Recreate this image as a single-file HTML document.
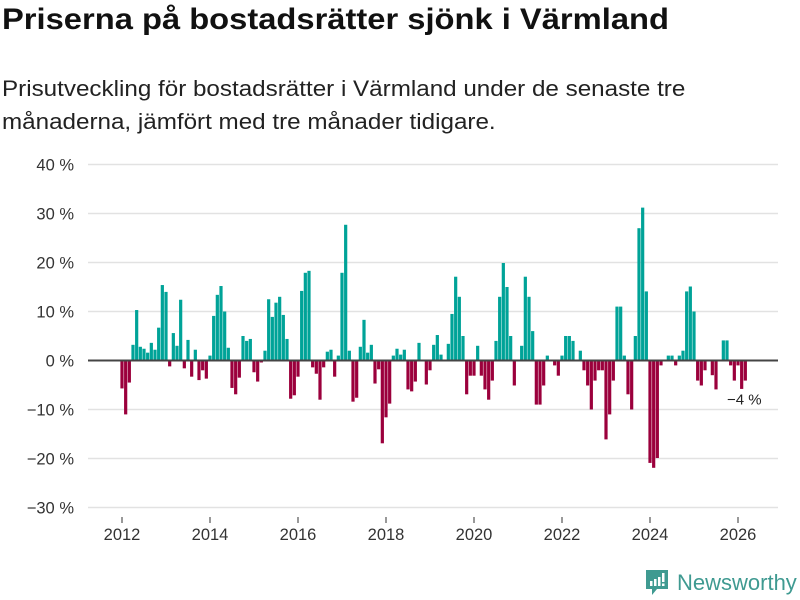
<!DOCTYPE html>
<html><head><meta charset="utf-8"><style>
body{margin:0;width:800px;height:600px;background:#fff;font-family:"Liberation Sans","DejaVu Sans",sans-serif;overflow:hidden;position:relative}
#title{position:absolute;left:2px;top:3px;font-size:30px;font-weight:bold;color:#111;margin:0;transform:scaleX(1.09);transform-origin:0 0;white-space:nowrap}
#sub{position:absolute;left:2px;top:72px;font-size:22px;line-height:33px;color:#222;width:645px;transform:scaleX(1.1);transform-origin:0 0}
svg{position:absolute;left:0;top:0}
</style></head><body>
<h1 id="title">Priserna på bostadsrätter sjönk i Värmland</h1>
<div id="sub">Prisutveckling för bostadsrätter i Värmland under de senaste tre månaderna, jämfört med tre månader tidigare.</div>
<svg id="chart" width="800" height="600"></svg>
<div style="position:absolute;left:645px;top:568px;height:30px;display:flex;align-items:center">
<svg width="24" height="30" style="position:static"><path d="M1 2h22v19H12l-5 6v-6H1z" fill="#3f9a91"/><rect x="5" y="13" width="2.5" height="5" fill="#fff"/><rect x="9" y="11" width="2.5" height="7" fill="#fff"/><rect x="13" y="9" width="2.5" height="9" fill="#fff"/><rect x="17" y="5" width="2.5" height="9" fill="#fff"/><rect x="17" y="15.5" width="2.5" height="2.5" fill="#fff"/></svg>
<span style="font-size:22px;color:#3f9a91;margin-left:8px">Newsworthy</span></div>
<script>
const values=[-5.7,-11,-4.5,3.2,10.3,2.8,2.4,1.6,3.6,2.2,6.7,15.4,14,-1.2,5.6,3,12.4,-1.6,4.2,-3.3,2.2,-4,-2,-3.7,1,9.1,13.4,15.2,10,2.6,-5.6,-6.9,-3.5,5,4,4.4,-2.4,-4.3,-0.4,2,12.5,8.9,11.8,13,9.3,4.4,-7.8,-7.1,-3.3,14.2,17.9,18.3,-1.4,-2.7,-8,-1.4,1.8,2.2,-3.3,1,17.9,27.7,2,-8.4,-7.6,2.8,8.3,1.6,3.2,-4.7,-1.8,-16.9,-11.6,-8.8,1,2.4,1.2,2.2,-5.9,-6.3,-4.3,3.6,0,-4.9,-2,3.2,5.2,1.2,0,3.4,9.5,17.1,13,5,-6.9,-3.1,-3.1,3,-3.1,-5.9,-8,-4.1,4,13,19.9,15,5,-5.1,0,3,17.1,13,6,-9,-9,-5.1,1,0,-1,-3.1,1,5,5,4,0,2,-2,-5.1,-10,-4.1,-2,-2,-16.1,-11,-4.1,11,11,1,-6.9,-10,5,27,31.2,14.1,-20.9,-21.9,-19.9,-1,0,1,1,-1,1,2,14.1,15.1,10,-4.1,-5.1,-2,0,-3,-5.9,0,4.1,4.1,-1,-4.1,-1,-5.8,-4.1];
const yTicks=[40,30,20,10,0,-10,-20,-30];
const xTicks=[2012,2014,2016,2018,2020,2022,2024,2026];
const startYear=2012;
const lastLabel="−4 %";
const NS="http://www.w3.org/2000/svg";
const svg=document.getElementById('chart');
const y=v=>360.5-v*4.9;
const x=t=>122+(t-startYear)*44;
function mk(tag,attrs,txt){const e=document.createElementNS(NS,tag);for(const k in attrs)e.setAttribute(k,attrs[k]);if(txt!=null)e.textContent=txt;svg.appendChild(e);return e;}
yTicks.forEach(t=>{
 if(t!==0){const g=mk('line',{x1:88,x2:778,y1:y(t),y2:y(t),stroke:'#e2e2e2','stroke-width':1.5});
 
 }
 const l=mk('text',{x:74,y:y(t)+6,'text-anchor':'end','font-size':16.5,fill:'#333'},(t<0?'−':'')+Math.abs(t)+' %');
 
 
});
xTicks.forEach(t=>{
 const k=mk('line',{x1:x(t),x2:x(t),y1:517,y2:523,stroke:'#333','stroke-width':1});
 
 
 const l=mk('text',{x:x(t),y:540,'text-anchor':'middle','font-size':16.5,fill:'#333'},String(t));
 
 
});
values.forEach((v,i)=>{
 const cx=x(startYear+i/12);
 const r=mk('rect',{x:cx-1.6,width:3.2,y:Math.min(y(v),y(0)),height:Math.abs(y(v)-y(0)),fill:v>=0?'#00a398':'#9b003c'});
 
 
});
const z=mk('line',{x1:88,x2:778,y1:y(0),y2:y(0),stroke:'#444','stroke-width':2});


const li=values.length-1;
const ll=mk('text',{x:x(startYear+li/12)-1,y:y(values[li])+24,'text-anchor':'middle','font-size':15,fill:'#222'},lastLabel);


</script>
</body></html>
